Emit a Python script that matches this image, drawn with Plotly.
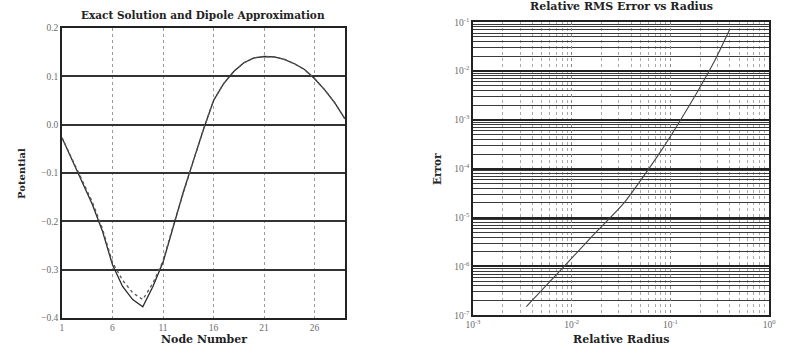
import plotly.graph_objects as go

# ---- data: left panel (potential along nodes) ----
nodes = list(range(1, 30))
exact = [-0.027, -0.072, -0.118, -0.165, -0.22, -0.29, -0.335, -0.362, -0.377, -0.335,
         -0.285, -0.21, -0.14, -0.075, -0.01, 0.05, 0.085, 0.11, 0.128, 0.138,
         0.141, 0.14, 0.135, 0.126, 0.114, 0.095, 0.072, 0.045, 0.012]
dipole = [-0.027, -0.07, -0.115, -0.16, -0.215, -0.285, -0.322, -0.348, -0.362, -0.328,
          -0.282, -0.21, -0.14, -0.075, -0.01, 0.05, 0.085, 0.11, 0.128, 0.138,
          0.141, 0.14, 0.135, 0.126, 0.114, 0.095, 0.072, 0.045, 0.012]
left_xticks = [1, 6, 11, 16, 21, 26]
left_yticks = [0.2, 0.1, 0.0, -0.1, -0.2, -0.3, -0.4]

# ---- data: right panel (RMS error vs radius) ----
radius = [0.00347, 0.00794, 0.0158, 0.0339, 0.0794, 0.182, 0.282, 0.398]
rms_err = [1.5e-7, 8.9e-7, 4.0e-6, 2.0e-5, 2.24e-4, 3.4e-3, 1.66e-2, 7.1e-2]
x_decades = [1e-3, 1e-2, 1e-1, 1e0]
x_dec_labels = ["10<sup>-3</sup>", "10<sup>-2</sup>", "10<sup>-1</sup>", "10<sup>0</sup>"]
y_decades = [1e-7, 1e-6, 1e-5, 1e-4, 1e-3, 1e-2, 1e-1]
y_dec_labels = ["10<sup>-7</sup>", "10<sup>-6</sup>", "10<sup>-5</sup>", "10<sup>-4</sup>",
                "10<sup>-3</sup>", "10<sup>-2</sup>", "10<sup>-1</sup>"]
minor_x = [m * d for d in [1e-3, 1e-2, 1e-1] for m in range(2, 10)]
minor_y = [m * d for d in [1e-7, 1e-6, 1e-5, 1e-4, 1e-3, 1e-2] for m in range(2, 10)]

W, H = 785, 358
FONT = "Liberation Serif"
TFONT = "DejaVu Serif"
TICKC = "#6a6a6a"

fig = go.Figure()
fig.add_trace(go.Scatter(x=nodes, y=exact, mode="lines",
                         line=dict(color="#2a2a2a", width=1.3), xaxis="x", yaxis="y",
                         showlegend=False))
fig.add_trace(go.Scatter(x=nodes, y=dipole, mode="lines",
                         line=dict(color="#555555", width=1.3, dash="dot"), xaxis="x", yaxis="y",
                         showlegend=False))
fig.add_trace(go.Scatter(x=radius, y=rms_err, mode="lines",
                         line=dict(color="#444444", width=1.1, shape="spline", smoothing=0.6),
                         xaxis="x2", yaxis="y2", showlegend=False))

def px(x):
    return x / W

def py(y):
    return 1 - y / H

tickfont = dict(family=FONT, size=9.5, color=TICKC)

fig.update_layout(
    width=W, height=H,
    margin=dict(l=0, r=0, t=0, b=0),
    paper_bgcolor="white", plot_bgcolor="white",
    font=dict(family=FONT),
    xaxis=dict(domain=[px(55), px(343.5)], range=[1, 29],
               tickmode="array", tickvals=left_xticks,
               showgrid=True, gridcolor="#9a9a9a", griddash="dot", gridwidth=1,
               showline=True, linecolor="#222", linewidth=1.5, mirror=True,
               zeroline=False, ticks="", tickfont=tickfont, anchor="y"),
    yaxis=dict(domain=[py(321.7), py(21.7)], range=[-0.4, 0.2],
               tickmode="array", tickvals=left_yticks, tickformat=".1f",
               showgrid=True, gridcolor="#333", gridwidth=1.5,
               showline=True, linecolor="#222", linewidth=1.5, mirror=True,
               zeroline=False, ticks="", tickfont=tickfont, anchor="x"),
    xaxis2=dict(domain=[px(474), px(776)], type="log", range=[-3, 0],
                tickmode="array", tickvals=x_decades, ticktext=x_dec_labels,
                showgrid=True, gridcolor="#888", gridwidth=1.2, griddash="dot",
                minor=dict(tickvals=minor_x, showgrid=True, gridcolor="#aaa",
                           gridwidth=1, griddash="dot", ticks=""),
                showline=True, linecolor="#222", linewidth=1.5, mirror=True,
                zeroline=False, ticks="", tickfont=tickfont, anchor="y2"),
    yaxis2=dict(domain=[py(319), py(15.7)], type="log", range=[-7, -1],
                tickmode="array", tickvals=y_decades, ticktext=y_dec_labels,
                showgrid=True, gridcolor="#222", gridwidth=2,
                minor=dict(tickvals=minor_y, showgrid=True, gridcolor="#3a3a3a",
                           gridwidth=1.3, ticks=""),
                showline=True, linecolor="#222", linewidth=1.5, mirror=True,
                zeroline=False, ticks="", tickfont=tickfont, anchor="x2"),
)

annots = [
    dict(text="<b>Exact Solution and Dipole Approximation</b>", x=px(199), y=py(8.5), size=10.5),
    dict(text="<b>Relative RMS Error vs Radius</b>", x=px(625), y=py(-0.5), size=11),
    dict(text="<b>Node Number</b>", x=px(200), y=py(344), size=11),
    dict(text="<b>Relative Radius</b>", x=px(625), y=py(344), size=11),
    dict(text="<b>Potential</b>", x=px(14), y=py(172), size=10, textangle=-90),
    dict(text="<b>Error</b>", x=px(438), y=py(168), size=10.5, textangle=-90),
]
for a in annots:
    size = a.pop("size")
    fig.add_annotation(xref="paper", yref="paper", showarrow=False,
                       xanchor="center", yanchor="middle",
                       font=dict(family=TFONT, size=size, color="#222"), **a)

fig.write_html("out.html")
